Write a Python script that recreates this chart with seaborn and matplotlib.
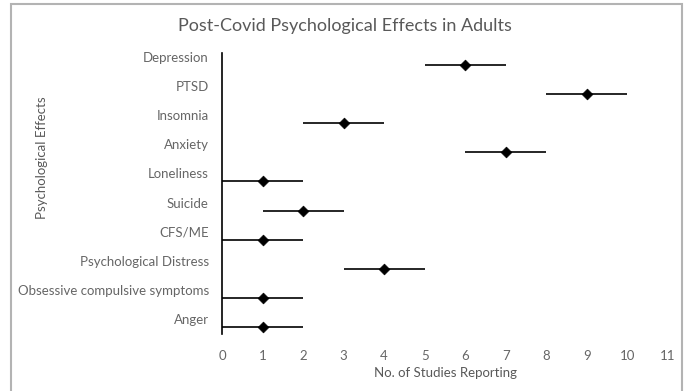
import matplotlib
matplotlib.use("Agg")
import matplotlib.pyplot as plt
import matplotlib.transforms as mtransforms
from matplotlib.patches import Rectangle
import seaborn as sns
import pandas as pd

effects = ["Depression", "PTSD", "Insomnia", "Anxiety", "Loneliness", "Suicide",
           "CFS/ME", "Psychological Distress", "Obsessive compulsive symptoms", "Anger"]
studies = [6, 9, 3, 7, 1, 2, 1, 4, 1, 1]
error = [1, 1, 1, 1, 1, 1, 1, 1, 1, 1]
x_ticks = list(range(0, 12))

sns.set_style("white")
plt.rcParams['font.family'] = ['Lato', 'DejaVu Sans']

W, H = 687, 391
fig = plt.figure(figsize=(W / 100, H / 100), dpi=100)
ax = fig.add_axes([222 / W, (H - 334) / H, (668 - 222) / W, (334 - 53) / H])

n = len(effects)
ypos = [n - 1 - i for i in range(n)]
df = pd.DataFrame({"effect": effects, "studies": studies, "err": error, "y": ypos})

ax.errorbar(df["studies"], df["y"], xerr=df["err"], fmt="none",
            ecolor="#262626", elinewidth=1.4, capsize=0, zorder=2)
sns.scatterplot(data=df, x="studies", y="y", marker="D", s=30, color="black",
                edgecolor="black", linewidth=0.5, ax=ax, zorder=3)

ax.set_xlim(0, 11)
ax.set_ylim(-0.24, 9.41)
ax.set_xticks(x_ticks)
ax.set_xticklabels([str(t) for t in x_ticks])
ax.set_yticks(df["y"])
ax.set_yticklabels(df["effect"])
ax.tick_params(axis="both", length=0, colors="#666666", labelsize=9.5)
ax.tick_params(axis="y", pad=9.5)
ax.tick_params(axis="x", pad=11.5)
offset = mtransforms.ScaledTranslation(0, 8 / 100, fig.dpi_scale_trans)
for lab in ax.get_yticklabels():
    lab.set_transform(lab.get_transform() + offset)

for s in ["top", "right", "bottom"]:
    ax.spines[s].set_visible(False)
ax.spines["left"].set_color("black")
ax.spines["left"].set_linewidth(1.2)
ax.set_xlabel("")
ax.set_ylabel("")
ax.grid(False)

fig.text(345 / W, 1 - 26 / H, "Post-Covid Psychological Effects in Adults",
         ha="center", va="center", fontsize=13, color="#595959")
fig.text(445 / W, 1 - 373 / H, "No. of Studies Reporting",
         ha="center", va="center", fontsize=9.5, color="#595959")
fig.text(42 / W, 1 - 158 / H, "Psychological Effects", rotation=90,
         ha="center", va="center", fontsize=9.5, color="#595959")

fig.patches.append(Rectangle((11 / W, -0.05), (682 - 11) / W, 1 - 4 / H + 0.05,
                             transform=fig.transFigure, fill=False,
                             edgecolor="#b3b3b3", linewidth=1.5))

fig.savefig("out.png", dpi=100)
